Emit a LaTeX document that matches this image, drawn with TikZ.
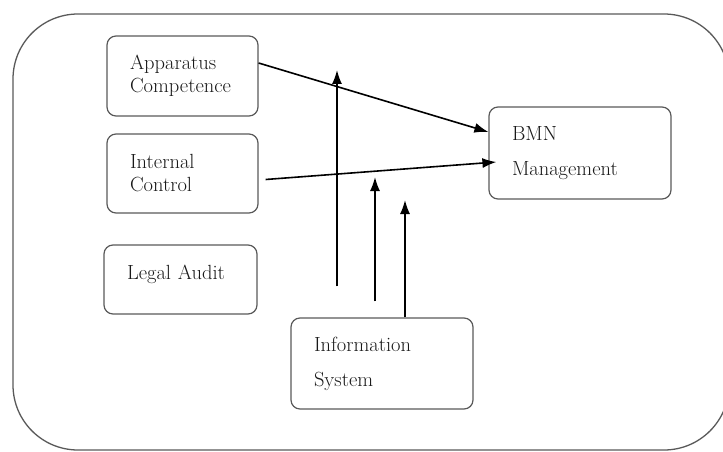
\documentclass[tikz,border=0pt]{standalone}
\usepackage{tikz}
\usetikzlibrary{positioning}
\usetikzlibrary{arrows.meta}

\begin{document}
\begin{tikzpicture}[x=1pt, y=-1pt, on grid, node distance = 100pt and 200pt, font=\fontsize{20.5}{23}\selectfont,
  box/.style ={draw=black!65, line width=1.2pt, rounded corners=9pt, align=left, inner xsep=23pt, text=black!90},
  link/.style={-{Latex[length=14pt, width=10pt]}, line width=1.6pt}]
	\useasboundingbox (0,0) rectangle (723,452);
	\draw[black!65, line width=1.3pt, rounded corners=65pt] (13,14) rectangle (729,450);
	\node[box, text width=105pt, minimum height=80pt] (app) at (182.5,76) {Apparatus\\Competence};
	\node[box, text width=105pt, minimum height=79pt] (ctrl) [below = 97.5pt of app] {Internal\\Control};
	\node[box, text width=107pt, minimum height=69pt, text depth=14pt, xshift=-2pt] (audit) [below = 106pt of ctrl] {Legal Audit};
	\node[box, text width=136pt, minimum height=92pt] (bmn) at (580,153) {BMN\\[12pt]Management};
	\node[box, text width=136pt, minimum height=91pt] (info) at (382,363.5) {Information\\[12pt]System};
	\coordinate (t1) at (337,70);
	\coordinate (t2) at (375,177);
	\coordinate (t3) at (405,200);
	\draw[link] ([yshift=13pt]app.east) -- ([yshift=21pt]bmn.west);
	\draw[link] ([xshift=7pt, yshift=-6pt]ctrl.east) -- ([xshift=8pt, yshift=-9pt]bmn.west);
	\draw[link] ([xshift=-45pt, yshift=31pt]info.north) -- (t1);
	\draw[link] ([xshift=-7pt, yshift=16pt]info.north) -- (t2);
	\draw[link] ([xshift=23pt]info.north) -- (t3);
\end{tikzpicture}
\end{document}
